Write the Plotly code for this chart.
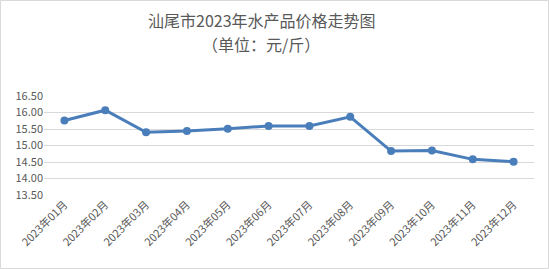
import plotly.graph_objects as go

months = ["2023年01月", "2023年02月", "2023年03月", "2023年04月", "2023年05月", "2023年06月",
          "2023年07月", "2023年08月", "2023年09月", "2023年10月", "2023年11月", "2023年12月"]
prices = [15.76, 16.07, 15.40, 15.44, 15.51, 15.59, 15.59, 15.87, 14.83, 14.85, 14.58, 14.51]
y_ticks = [13.5, 14.0, 14.5, 15.0, 15.5, 16.0, 16.5]
y_tick_text = ["13.50", "14.00", "14.50", "15.00", "15.50", "16.00", "16.50"]

W, H = 549, 269
L, R, T, B = 44, 15, 96, 74

fig = go.Figure()
fig.add_trace(go.Scatter(
    x=months, y=prices, mode="lines+markers",
    line=dict(color="#4a7ebb", width=3),
    marker=dict(color="#4a7ebb", size=8),
    hoverinfo="x+y",
))

pw = W - L - R
ph = H - T - B
def px(x):
    return (x - L) / pw
def py(y):
    return (H - B - y) / ph

fig.update_layout(
    width=W, height=H,
    margin=dict(l=L, r=R, t=T, b=B),
    paper_bgcolor="white", plot_bgcolor="white",
    showlegend=False,
    font=dict(family="Noto Sans CJK SC, sans-serif", color="#595959", size=11),
    annotations=[
        dict(text="汕尾市2023年水产品价格走势图", xref="paper", yref="paper",
             x=px(262), y=py(20), showarrow=False, xanchor="center", yanchor="middle",
             font=dict(size=16, color="#595959")),
        dict(text="（单位：元/斤）", xref="paper", yref="paper",
             x=px(261), y=py(44), showarrow=False, xanchor="center", yanchor="middle",
             font=dict(size=16, color="#595959")),
    ],
    shapes=[dict(type="rect", xref="paper", yref="paper",
                 x0=px(0.5), x1=px(W - 0.5), y0=py(H - 0.5), y1=py(0.5),
                 line=dict(color="#d9d9d9", width=1), layer="below")],
)
fig.update_xaxes(
    type="category", tickangle=-45, showgrid=False, showline=False,
    ticks="", tickfont=dict(size=11, color="#595959"),
    range=[-0.5, len(months) - 0.5],
)
fig.update_yaxes(
    range=[13.5, 16.5], tickvals=y_ticks, ticktext=y_tick_text,
    showgrid=True, gridcolor="#d9d9d9", gridwidth=1, zeroline=False,
    showline=False, ticks="", tickfont=dict(size=11, color="#595959"),
)

fig.write_html("out.html")
